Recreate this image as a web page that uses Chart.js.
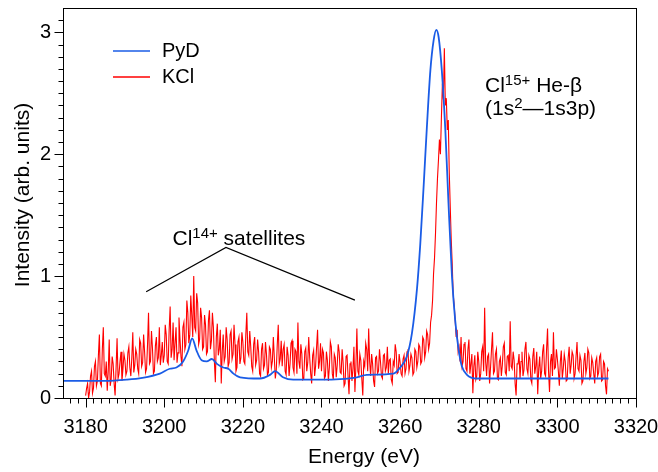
<!DOCTYPE html>
<html>
<head>
<meta charset="utf-8">
<script src="https://cdn.jsdelivr.net/npm/chart.js@4.4.0/dist/chart.umd.min.js"></script>
<style>
    html, body { margin: 0; padding: 0; background: #fff; }
    #wrap { width: 658px; height: 472px; }
</style>
</head>
<body>
<div id="wrap"><canvas id="spectrumChart" width="658" height="472"></canvas></div>
<script>
// ---- data ----
const pydEnergy = [3174.5, 3185, 3190.4, 3194.4, 3198.9, 3201.4, 3203.1, 3204.8, 3206.1, 3207.1,
    3208.2, 3209.5, 3210.8, 3212.1, 3213.4, 3215, 3216.3, 3217.6, 3219.3, 3224.4,
    3226.9, 3228.2, 3230.2, 3232.8, 3240.3, 3244.7, 3249, 3251.5, 3258.3, 3260,
    3261.7, 3263, 3264.3, 3265.1, 3266, 3266.8, 3267.7, 3268.5, 3269.2, 3269.8,
    3270.6, 3271.5, 3272.3, 3273.2, 3274, 3274.9, 3275.7, 3277, 3279.5, 3313];
const pydIntensity = [0.14, 0.14, 0.15, 0.165, 0.20, 0.24, 0.25, 0.30, 0.39, 0.49,
    0.39, 0.31, 0.30, 0.32, 0.28, 0.25, 0.24, 0.20, 0.17, 0.16,
    0.19, 0.22, 0.17, 0.15, 0.15, 0.155, 0.17, 0.19, 0.20, 0.25,
    0.34, 0.53, 0.90, 1.25, 1.75, 2.22, 2.69, 2.93, 3.02, 2.96,
    2.69, 2.20, 1.60, 0.99, 0.64, 0.39, 0.26, 0.19, 0.16, 0.16];

// KCl spectrum, sampled every 0.25 eV from 3180 eV (one row = 10 eV)
const kclStart = 3180;
const kclStep = 0.25;
const kclIntensity = [
    0.02, 0.08, 0.12, 0.00, 0.05, 0.18, 0.22, 0.04, 0.08, 0.26, 0.30, 0.10, 0.14, 0.35, 0.52, 0.12, 0.10, 0.40, 0.58, 0.20,
    0.18, 0.30, 0.06, 0.22, 0.48, 0.10, 0.15, 0.34, 0.28, 0.12, 0.02, 0.25, 0.49, 0.16, 0.20, 0.30, 0.38, 0.14, 0.24, 0.36, // 3180
    0.31, 0.19, 0.22, 0.37, 0.42, 0.25, 0.18, 0.33, 0.54, 0.21, 0.27, 0.40, 0.36, 0.24, 0.20, 0.48, 0.45, 0.26, 0.29, 0.52,
    0.38, 0.21, 0.24, 0.44, 0.70, 0.28, 0.30, 0.55, 0.41, 0.20, 0.22, 0.43, 0.50, 0.30, 0.33, 0.58, 0.27, 0.35, 0.46, 0.29, // 3190
    0.35, 0.60, 0.52, 0.30, 0.28, 0.56, 0.75, 0.33, 0.40, 0.62, 0.31, 0.45, 0.58, 0.29, 0.37, 0.66, 0.49, 0.34, 0.26, 0.58,
    0.62, 0.40, 0.44, 0.80, 0.70, 0.45, 0.52, 0.84, 0.68, 0.50, 1.00, 0.58, 0.55, 0.86, 0.78, 0.44, 0.48, 0.74, 0.66, 0.40, // 3200
    0.42, 0.68, 0.60, 0.36, 0.38, 0.64, 0.72, 0.40, 0.47, 0.70, 0.58, 0.30, 0.13, 0.50, 0.61, 0.35, 0.40, 0.56, 0.12, 0.38,
    0.52, 0.30, 0.34, 0.58, 0.48, 0.26, 0.29, 0.52, 0.55, 0.32, 0.36, 0.60, 0.44, 0.22, 0.25, 0.46, 0.50, 0.28, 0.33, 0.54, // 3210
    0.46, 0.30, 0.28, 0.52, 0.70, 0.38, 0.35, 0.55, 0.42, 0.26, 0.22, 0.44, 0.50, 0.27, 0.31, 0.48, 0.38, 0.20, 0.18, 0.40,
    0.45, 0.24, 0.27, 0.46, 0.36, 0.19, 0.21, 0.42, 0.40, 0.25, 0.30, 0.50, 0.33, 0.16, 0.23, 0.44, 0.60, 0.28, 0.32, 0.47, // 3220
    0.26, 0.40, 0.44, 0.22, 0.19, 0.42, 0.35, 0.18, 0.28, 0.45, 0.47, 0.25, 0.21, 0.40, 0.38, 0.20, 0.62, 0.30, 0.24, 0.44,
    0.36, 0.15, 0.16, 0.38, 0.41, 0.22, 0.29, 0.50, 0.33, 0.20, 0.12, 0.35, 0.39, 0.18, 0.26, 0.42, 0.56, 0.24, 0.30, 0.45, // 3230
    0.22, 0.40, 0.37, 0.16, 0.18, 0.38, 0.31, 0.14, 0.25, 0.46, 0.42, 0.20, 0.15, 0.36, 0.33, 0.17, 0.27, 0.44, 0.38, 0.21,
    0.20, 0.40, 0.29, 0.10, 0.12, 0.34, 0.35, 0.18, 0.03, 0.28, 0.30, 0.14, 0.24, 0.42, 0.05, 0.26, 0.57, 0.22, 0.19, 0.36, // 3240
    0.31, 0.16, 0.02, 0.30, 0.26, 0.45, 0.40, 0.22, 0.57, 0.30, 0.18, 0.36, 0.28, 0.14, 0.09, 0.33, 0.34, 0.20, 0.22, 0.40,
    0.30, 0.18, 0.16, 0.35, 0.36, 0.22, 0.25, 0.42, 0.20, 0.31, 0.32, 0.15, 0.12, 0.30, 0.27, 0.44, 0.38, 0.20, 0.21, 0.36, // 3250
    0.29, 0.20, 0.18, 0.32, 0.35, 0.20, 0.24, 0.38, 0.40, 0.22, 0.27, 0.36, 0.33, 0.19, 0.21, 0.40, 0.38, 0.25, 0.30, 0.44,
    0.42, 0.28, 0.30, 0.50, 0.48, 0.33, 0.38, 0.55, 0.52, 0.40, 0.45, 0.62, 0.68, 0.80, 1.02, 1.15, 1.35, 1.60, 1.80, 1.95, // 3260
    2.12, 2.00, 2.30, 2.58, 2.45, 2.87, 2.40, 2.46, 2.20, 2.28, 1.85, 1.57, 1.30, 1.10, 0.85, 0.76, 0.64, 0.50, 0.56, 0.38,
    0.42, 0.30, 0.50, 0.26, 0.30, 0.44, 0.46, 0.24, 0.22, 0.40, 0.48, 0.20, 0.28, 0.36, 0.04, 0.26, 0.35, 0.15, 0.18, 0.38, // 3270
    0.30, 0.14, 0.20, 0.38, 0.42, 0.22, 0.74, 0.30, 0.18, 0.34, 0.36, 0.12, 0.25, 0.40, 0.54, 0.20, 0.22, 0.36, 0.40, 0.16,
    0.15, 0.30, 0.33, 0.18, 0.27, 0.42, 0.45, 0.21, 0.19, 0.34, 0.35, 0.22, 0.63, 0.26, 0.24, 0.38, 0.31, 0.12, 0.02, 0.28, // 3280
    0.28, 0.36, 0.16, 0.30, 0.38, 0.18, 0.23, 0.40, 0.46, 0.24, 0.20, 0.35, 0.32, 0.15, 0.12, 0.34, 0.41, 0.20, 0.26, 0.38,
    0.03, 0.24, 0.34, 0.16, 0.22, 0.38, 0.44, 0.20, 0.18, 0.40, 0.57, 0.22, 0.05, 0.30, 0.36, 0.18, 0.54, 0.24, 0.25, 0.40, // 3290
    0.32, 0.22, 0.10, 0.30, 0.39, 0.16, 0.24, 0.36, 0.30, 0.14, 0.15, 0.33, 0.42, 0.20, 0.27, 0.38, 0.35, 0.16, 0.20, 0.34,
    0.46, 0.24, 0.22, 0.35, 0.31, 0.12, 0.14, 0.30, 0.37, 0.20, 0.25, 0.40, 0.37, 0.16, 0.18, 0.33, 0.29, 0.20, 0.12, 0.30, // 3300
    0.33, 0.18, 0.21, 0.34, 0.36, 0.14, 0.15, 0.30, 0.28, 0.10, 0.03, 0.24, 0.22                                              // 3310
];

const xTickLabels = [3180, 3200, 3220, 3240, 3260, 3280, 3300, 3320];
const yTickLabels = [0, 1, 2, 3];
const xMinorStep = 2;
const yMinorStep = 0.1;

const FONT = '"Liberation Sans", Arial, Helvetica, sans-serif';

/*** ===========================
 *  FRAME, MINOR TICKS, TITLES, LEGEND, NOTES
 *  =========================== ***/
function richText(ctx, parts, px, py) {
    let cx = px;
    parts.forEach(([text, sup]) => {
        ctx.font = (sup ? '15px ' : '21px ') + FONT;
        ctx.fillText(text, cx, sup ? py - 7 : py);
        cx += ctx.measureText(text).width;
    });
}

const decorPlugin = {
    id: 'decor',
    afterDraw(chart) {
        const { ctx, chartArea: a, scales: { x, y } } = chart;
        ctx.save();
        ctx.strokeStyle = '#000';
        ctx.lineWidth = 1;

        const l = Math.round(a.left) - 0.5, r = Math.round(a.right) + 0.5;
        const t = Math.round(a.top) + 0.5, b = Math.round(a.bottom) + 0.5;
        ctx.strokeRect(l, t, r - l, b - t);

        // outward ticks on bottom and left
        ctx.beginPath();
        for (let v = xTickLabels[0] - 4; v <= x.max; v += xMinorStep) {
            if (v < x.min) continue;
            const px = Math.round(x.getPixelForValue(v)) + 0.5;
            const len = xTickLabels.includes(v) ? 9 : 5;
            ctx.moveTo(px, b);
            ctx.lineTo(px, b + len);
        }
        for (let k = 0; k * yMinorStep <= y.max - 0.05; k++) {
            const py = Math.round(y.getPixelForValue(k * yMinorStep)) + 0.5;
            const len = (k % 10 === 0) ? 9 : 5;
            ctx.moveTo(l, py);
            ctx.lineTo(l - len, py);
        }
        ctx.stroke();

        // axis titles
        ctx.fillStyle = '#000';
        ctx.font = '21px ' + FONT;
        ctx.textAlign = 'center';
        ctx.textBaseline = 'alphabetic';
        ctx.fillText('Energy (eV)', 364, 463);
        ctx.save();
        ctx.translate(29, 195);
        ctx.rotate(-Math.PI / 2);
        ctx.fillText('Intensity (arb. units)', 0, 0);
        ctx.restore();

        // legend
        ctx.textAlign = 'left';
        ctx.textBaseline = 'middle';
        ctx.font = '20px ' + FONT;
        [51, 77].forEach((ly, i) => {
            const ds = chart.data.datasets[i];
            ctx.strokeStyle = ds.borderColor;
            ctx.lineWidth = 1.6;
            ctx.beginPath();
            ctx.moveTo(113, ly);
            ctx.lineTo(150, ly);
            ctx.stroke();
            ctx.fillText(ds.label, 162, ly);
        });

        // satellites note
        ctx.textBaseline = 'alphabetic';
        richText(ctx, [['Cl'], ['14+', true], [' satellites']],
            x.getPixelForValue(3202.1), y.getPixelForValue(1.254));
        ctx.strokeStyle = '#000';
        ctx.lineWidth = 1.2;
        ctx.beginPath();
        ctx.moveTo(x.getPixelForValue(3195.4), y.getPixelForValue(0.871));
        ctx.lineTo(x.getPixelForValue(3215.7), y.getPixelForValue(1.235));
        ctx.lineTo(x.getPixelForValue(3248.5), y.getPixelForValue(0.803));
        ctx.stroke();

        // He-beta note
        richText(ctx, [['Cl'], ['15+', true], [' He-β']],
            x.getPixelForValue(3281.6), y.getPixelForValue(2.51));
        richText(ctx, [['(1s'], ['2', true], ['—1s3p)']],
            x.getPixelForValue(3281.6), y.getPixelForValue(2.32));

        ctx.restore();
    }
};

/*** ===========================
 *  SPECTRUM CHART
 *  =========================== ***/
const ctx = document.getElementById('spectrumChart').getContext('2d');

new Chart(ctx, {
    type: 'line',
    data: {
        datasets: [{
            label: 'PyD',
            data: pydEnergy.map((e, i) => ({ x: e, y: pydIntensity[i] })),
            borderColor: '#1a5ce6',
            borderWidth: 1.8,
            cubicInterpolationMode: 'monotone',
            pointRadius: 0
        }, {
            label: 'KCl',
            data: kclIntensity.map((v, i) => ({ x: kclStart + i * kclStep, y: v })),
            borderColor: '#ff0000',
            borderWidth: 1.1,
            tension: 0,
            pointRadius: 0
        }]
    },
    options: {
        responsive: false,
        animation: false,
        layout: { padding: { top: 8, right: 22, left: 0, bottom: 0 } },
        plugins: {
            legend: { display: false },
            tooltip: { enabled: false }
        },
        scales: {
            x: {
                type: 'linear',
                min: 3174.5,
                max: 3320,
                afterBuildTicks: s => { s.ticks = xTickLabels.map(v => ({ value: v })); },
                afterFit: s => { s.height = 74; s.paddingLeft = 0; s.paddingRight = 0; },
                grid: { display: false, drawTicks: true, tickLength: 9 },
                border: { display: false },
                ticks: {
                    color: '#000',
                    font: { family: FONT, size: 20 },
                    padding: 8,
                    maxRotation: 0,
                    autoSkip: false,
                    callback: v => String(v)
                }
            },
            y: {
                type: 'linear',
                min: 0,
                max: 3.2,
                afterBuildTicks: s => { s.ticks = yTickLabels.map(v => ({ value: v })); },
                afterFit: s => { s.width = 64; s.paddingTop = 0; s.paddingBottom = 0; },
                grid: { display: false, drawTicks: true, tickLength: 9 },
                border: { display: false },
                ticks: {
                    color: '#000',
                    font: { family: FONT, size: 20 },
                    padding: 4,
                    callback: v => String(v)
                }
            }
        }
    },
    plugins: [decorPlugin]
});
</script>
</body>
</html>
